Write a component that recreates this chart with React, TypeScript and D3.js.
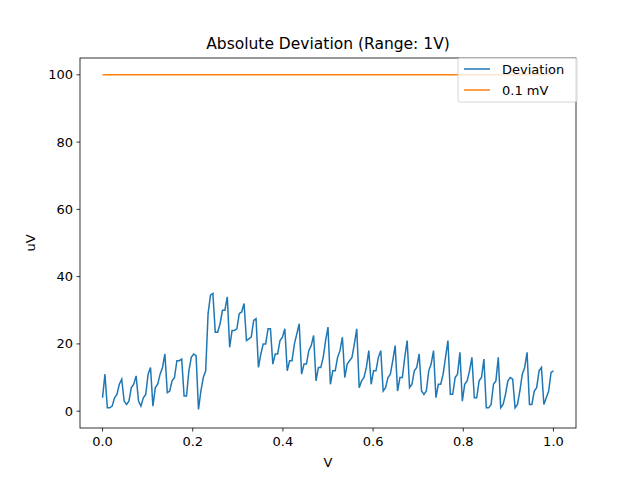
import * as d3 from 'd3'

// deviation samples, 0..1 V in steps of 0.005
const deviation = [
  4, 11, 1, 1, 1.5, 4, 5, 8, 9.5, 3, 2, 3, 7, 8, 10.5, 3, 1.5, 4, 5, 11,
  13, 1.5, 7, 8, 11, 13, 17, 5.5, 6, 9, 10, 15, 15, 15.5, 4.5, 4.5, 12, 16, 17, 16.5,
  0.5, 6, 10, 12, 29, 34.5, 35, 23.5, 23.5, 26, 30, 30, 34, 19, 24, 24, 24.5, 29, 29.5, 32,
  21, 21.5, 22, 27, 27.5, 13, 17, 20, 20, 24.5, 24.5, 14, 17, 17, 21, 22, 24.5, 12, 15, 15,
  20, 23, 26, 11, 14, 14, 18, 19.5, 22.5, 9, 13, 13, 16, 21, 25, 8, 12, 12, 16, 18,
  22, 10, 14, 15, 16, 20, 24.5, 7, 9, 10, 13, 18, 8, 12, 12, 16, 18, 6, 7, 10, 11, 15, 19.5,
  6, 10, 10, 16, 21, 7, 8, 12, 13, 17, 6, 5, 6, 12, 14, 18, 4, 8, 8, 11, 16, 21,
  5, 5, 10, 11, 17.5, 3, 8, 9, 12, 16, 4, 4, 9, 10, 15.5, 1, 1, 2, 8, 9, 16, 1,
  2, 5, 9, 10, 9.5, 1, 2, 6, 11, 13, 17.5, 2, 2, 6, 7, 12, 13, 2, 4, 6, 11.5, 12
]
const xValues = deviation.map((_, i) => i / (deviation.length - 1))
const refLevel = 100
const xTicks = [0, 0.2, 0.4, 0.6, 0.8, 1.0]
const yTicks = [0, 20, 40, 60, 80, 100]

const W = 640, H = 480
const m = { top: 58, right: 64, bottom: 52, left: 80 }

export default function App() {
  const x = d3.scaleLinear().domain([-0.05, 1.05]).range([m.left, W - m.right])
  const y = d3.scaleLinear().domain([-5, 105]).range([H - m.bottom, m.top])
  const line = d3.line<number>().x((_, i) => x(xValues[i])).y(d => y(d))
  const pts = xValues.map(v => [x(v), y(refLevel)] as [number, number])
  const font = 'DejaVu Sans'
  return (
    <svg width={W} height={H} style={{ position: 'absolute', left: 0, top: 0 }} fontFamily={font}>
      <rect width={W} height={H} fill="white" />
      <path d={line(deviation) || ''} fill="none" stroke="#1f77b4" strokeWidth={1.5} />
      <path d={d3.line()(pts) || ''} fill="none" stroke="#ff7f0e" strokeWidth={1.5} />
      <rect x={m.left} y={m.top} width={W - m.left - m.right} height={H - m.top - m.bottom} fill="none" stroke="black" strokeWidth={0.8} />
      {xTicks.map(t => (
        <g key={t} transform={`translate(${x(t)},${H - m.bottom})`}>
          <line y2={3.5} stroke="black" strokeWidth={0.8} />
          <text y={18} textAnchor="middle" fontSize={13}>{t.toFixed(1)}</text>
        </g>
      ))}
      {yTicks.map(t => (
        <g key={t} transform={`translate(${m.left},${y(t)})`}>
          <line x2={-3.5} stroke="black" strokeWidth={0.8} />
          <text x={-7} dy="0.35em" textAnchor="end" fontSize={13}>{t}</text>
        </g>
      ))}
      <text x={(m.left + W - m.right) / 2} y={467} textAnchor="middle" fontSize={13}>V</text>
      <text transform={`translate(35,${(m.top + H - m.bottom) / 2}) rotate(-90)`} textAnchor="middle" fontSize={13}>uV</text>
      <text x={(m.left + W - m.right) / 2} y={49} textAnchor="middle" fontSize={15.5}>Absolute Deviation (Range: 1V)</text>
      <g transform="translate(458,58)">
        <rect width={119} height={44} rx={2} fill="white" fillOpacity={0.8} stroke="#cccccc" strokeWidth={0.8} />
        <line x1={6} x2={32} y1={11} y2={11} stroke="#1f77b4" strokeWidth={1.5} />
        <text x={44} y={16} fontSize={13}>Deviation</text>
        <line x1={6} x2={32} y1={32} y2={32} stroke="#ff7f0e" strokeWidth={1.5} />
        <text x={44} y={37} fontSize={13}>0.1 mV</text>
      </g>
    </svg>
  )
}
